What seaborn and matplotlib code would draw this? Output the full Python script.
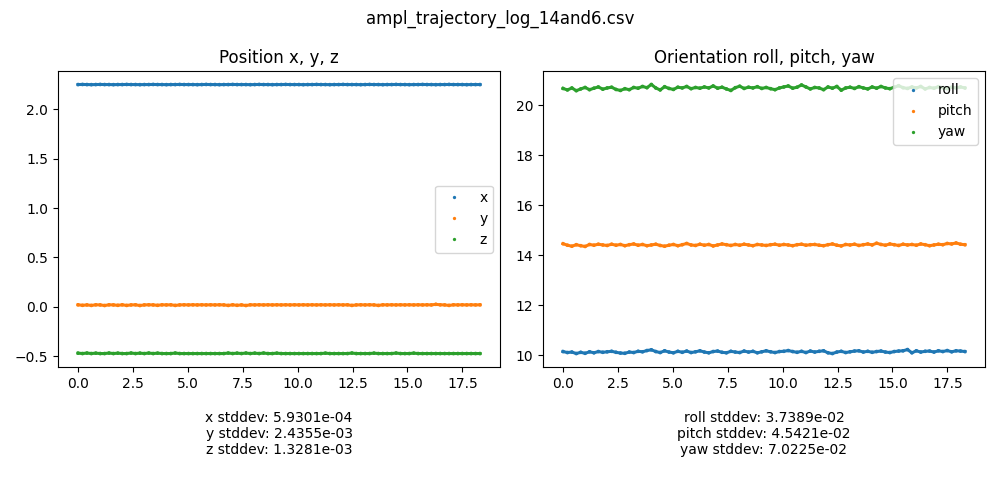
import numpy as np
import pandas as pd
import seaborn as sns
import matplotlib
matplotlib.use("Agg")
import matplotlib.pyplot as plt

# sample times (s), 92 samples over the log
n_samples = 92
t_end = 18.3

# position (m)
pos_x = [2.252, 2.253, 2.252, 2.251, 2.252, 2.253, 2.252, 2.252, 2.251, 2.252,
         2.252, 2.253, 2.252, 2.252, 2.251, 2.252, 2.252, 2.253, 2.252, 2.252,
         2.251, 2.252, 2.252, 2.253, 2.252, 2.252, 2.252, 2.251, 2.252, 2.253,
         2.252, 2.252, 2.251, 2.252, 2.252, 2.253, 2.252, 2.252, 2.252, 2.251,
         2.252, 2.253, 2.252, 2.252, 2.251, 2.252, 2.252, 2.253, 2.252, 2.252,
         2.252, 2.251, 2.252, 2.252, 2.253, 2.252, 2.252, 2.251, 2.252, 2.252,
         2.253, 2.252, 2.252, 2.252, 2.251, 2.252, 2.253, 2.252, 2.252, 2.251,
         2.252, 2.252, 2.253, 2.252, 2.252, 2.251, 2.252, 2.252, 2.253, 2.252,
         2.252, 2.251, 2.252, 2.252, 2.253, 2.252, 2.252, 2.252, 2.251, 2.252,
         2.252, 2.252]
pos_y = [0.019, 0.014, 0.018, 0.013, 0.019, 0.018, 0.012, 0.019, 0.018, 0.014,
         0.019, 0.013, 0.018, 0.019, 0.012, 0.018, 0.019, 0.018, 0.014, 0.019,
         0.018, 0.019, 0.013, 0.018, 0.019, 0.018, 0.019, 0.018, 0.019, 0.018,
         0.019, 0.018, 0.019, 0.018, 0.013, 0.019, 0.014, 0.018, 0.012, 0.019,
         0.018, 0.019, 0.018, 0.019, 0.018, 0.019, 0.018, 0.019, 0.018, 0.019,
         0.018, 0.019, 0.018, 0.019, 0.018, 0.019, 0.018, 0.019, 0.018, 0.019,
         0.018, 0.019, 0.013, 0.018, 0.019, 0.018, 0.019, 0.018, 0.013, 0.019,
         0.018, 0.019, 0.018, 0.019, 0.018, 0.019, 0.018, 0.019, 0.018, 0.019,
         0.018, 0.024, 0.019, 0.018, 0.013, 0.019, 0.018, 0.019, 0.018, 0.019,
         0.018, 0.019]
pos_z = [-0.471, -0.475, -0.470, -0.475, -0.471, -0.475, -0.475, -0.470, -0.475, -0.471,
         -0.475, -0.475, -0.470, -0.475, -0.471, -0.475, -0.470, -0.475, -0.471, -0.475,
         -0.475, -0.475, -0.470, -0.475, -0.475, -0.475, -0.475, -0.475, -0.475, -0.475,
         -0.475, -0.475, -0.475, -0.475, -0.470, -0.475, -0.471, -0.475, -0.470, -0.475,
         -0.471, -0.475, -0.470, -0.475, -0.475, -0.471, -0.475, -0.475, -0.475, -0.475,
         -0.475, -0.475, -0.475, -0.475, -0.475, -0.475, -0.471, -0.475, -0.475, -0.475,
         -0.475, -0.475, -0.470, -0.475, -0.475, -0.475, -0.475, -0.471, -0.475, -0.475,
         -0.475, -0.475, -0.470, -0.475, -0.475, -0.475, -0.471, -0.475, -0.475, -0.475,
         -0.475, -0.475, -0.475, -0.475, -0.475, -0.475, -0.475, -0.475, -0.475, -0.475,
         -0.475, -0.475]

# orientation (deg)
roll = [10.14, 10.10, 10.12, 10.06, 10.11, 10.07, 10.13, 10.09, 10.14, 10.11,
        10.13, 10.15, 10.11, 10.08, 10.07, 10.12, 10.10, 10.15, 10.13, 10.18,
        10.21, 10.14, 10.10, 10.17, 10.12, 10.09, 10.15, 10.11, 10.16, 10.10,
        10.13, 10.17, 10.12, 10.09, 10.14, 10.16, 10.11, 10.09, 10.15, 10.12,
        10.10, 10.16, 10.12, 10.15, 10.09, 10.13, 10.17, 10.13, 10.10, 10.14,
        10.15, 10.18, 10.14, 10.11, 10.15, 10.10, 10.16, 10.12, 10.15, 10.17,
        10.09, 10.06, 10.12, 10.15, 10.10, 10.13, 10.16, 10.17, 10.12, 10.15,
        10.11, 10.14, 10.16, 10.12, 10.10, 10.14, 10.16, 10.17, 10.22, 10.09,
        10.17, 10.12, 10.15, 10.16, 10.12, 10.17, 10.14, 10.18, 10.13, 10.17,
        10.16, 10.14]
pitch = [14.46, 14.40, 14.36, 14.42, 14.38, 14.35, 14.43, 14.40, 14.44, 14.41,
         14.39, 14.44, 14.40, 14.43, 14.38, 14.42, 14.45, 14.40, 14.43, 14.38,
         14.41, 14.44, 14.39, 14.36, 14.40, 14.43, 14.38, 14.42, 14.47, 14.41,
         14.39, 14.44, 14.40, 14.43, 14.37, 14.41, 14.45, 14.42, 14.39, 14.43,
         14.40, 14.44, 14.41, 14.38, 14.43, 14.41, 14.39, 14.42, 14.44, 14.40,
         14.43, 14.41, 14.38, 14.42, 14.44, 14.40, 14.42, 14.43, 14.40, 14.38,
         14.42, 14.45, 14.40, 14.37, 14.43, 14.41, 14.44, 14.39, 14.42, 14.45,
         14.41, 14.48, 14.43, 14.40, 14.45, 14.42, 14.39, 14.44, 14.41, 14.43,
         14.40, 14.45, 14.42, 14.38, 14.41, 14.44, 14.42, 14.47, 14.45, 14.49,
         14.44, 14.42]
yaw = [20.68, 20.62, 20.70, 20.59, 20.66, 20.72, 20.63, 20.69, 20.74, 20.65,
       20.70, 20.73, 20.64, 20.60, 20.67, 20.63, 20.72, 20.69, 20.76, 20.71,
       20.84, 20.70, 20.62, 20.75, 20.68, 20.64, 20.73, 20.70, 20.76, 20.67,
       20.72, 20.69, 20.74, 20.70, 20.78, 20.69, 20.73, 20.66, 20.60, 20.71,
       20.77, 20.68, 20.73, 20.70, 20.75, 20.68, 20.72, 20.67, 20.63, 20.70,
       20.74, 20.78, 20.69, 20.73, 20.82, 20.74, 20.66, 20.72, 20.70, 20.63,
       20.74, 20.69, 20.76, 20.61, 20.70, 20.73, 20.68, 20.75, 20.70, 20.66,
       20.74, 20.69, 20.76, 20.70, 20.67, 20.73, 20.79, 20.71, 20.68, 20.74,
       20.70, 20.76, 20.66, 20.72, 20.69, 20.75, 20.71, 20.67, 20.73, 20.70,
       20.74, 20.70]

file_name = "ampl_trajectory_log_14and6.csv"
colors = ["#1f77b4", "#ff7f0e", "#2ca02c"]

t = np.linspace(0, t_end, n_samples)


def long_df(series):
    frames = [pd.DataFrame({"t": t, "value": vals, "name": name}) for name, vals in series.items()]
    return pd.concat(frames, ignore_index=True)


pos_df = long_df({"x": pos_x, "y": pos_y, "z": pos_z})
ori_df = long_df({"roll": roll, "pitch": pitch, "yaw": yaw})

fig, (ax1, ax2) = plt.subplots(1, 2, figsize=(10, 5), dpi=100)
fig.subplots_adjust(left=0.058, right=0.985, top=0.858, bottom=0.266, wspace=0.097)
fig.suptitle(file_name, fontsize=12, y=0.98)

for ax, df, title, loc in [(ax1, pos_df, "Position x, y, z", "center right"),
                           (ax2, ori_df, "Orientation roll, pitch, yaw", "upper right")]:
    # dense log samples: a thick trace plus the sample dots
    sns.lineplot(data=df, x="t", y="value", hue="name", palette=colors,
                 linewidth=2.2, legend=False, ax=ax)
    sns.scatterplot(data=df, x="t", y="value", hue="name", palette=colors,
                    s=7, linewidth=0, ax=ax)
    handles, labels = ax.get_legend_handles_labels()
    ax.legend(handles, labels, loc=loc, markerscale=0.9)
    ax.set_title(title, fontsize=12)
    ax.set_xlabel("")
    ax.set_ylabel("")

ax1.set_xticks([0, 2.5, 5, 7.5, 10, 12.5, 15, 17.5])
ax2.set_xticks([0, 2.5, 5, 7.5, 10, 12.5, 15, 17.5])

pos_std = {"x": 5.9301e-04, "y": 2.4355e-03, "z": 1.3281e-03}
ori_std = {"roll": 3.7389e-02, "pitch": 4.5421e-02, "yaw": 7.0225e-02}
pos_text = "\n".join(f"{k} stddev: {v:.4e}" for k, v in pos_std.items())
ori_text = "\n".join(f"{k} stddev: {v:.4e}" for k, v in ori_std.items())
fig.text(0.279, 0.132, pos_text, ha="center", va="center", fontsize=10, multialignment="center")
fig.text(0.764, 0.132, ori_text, ha="center", va="center", fontsize=10, multialignment="center")

fig.savefig("out.png", dpi=100)
